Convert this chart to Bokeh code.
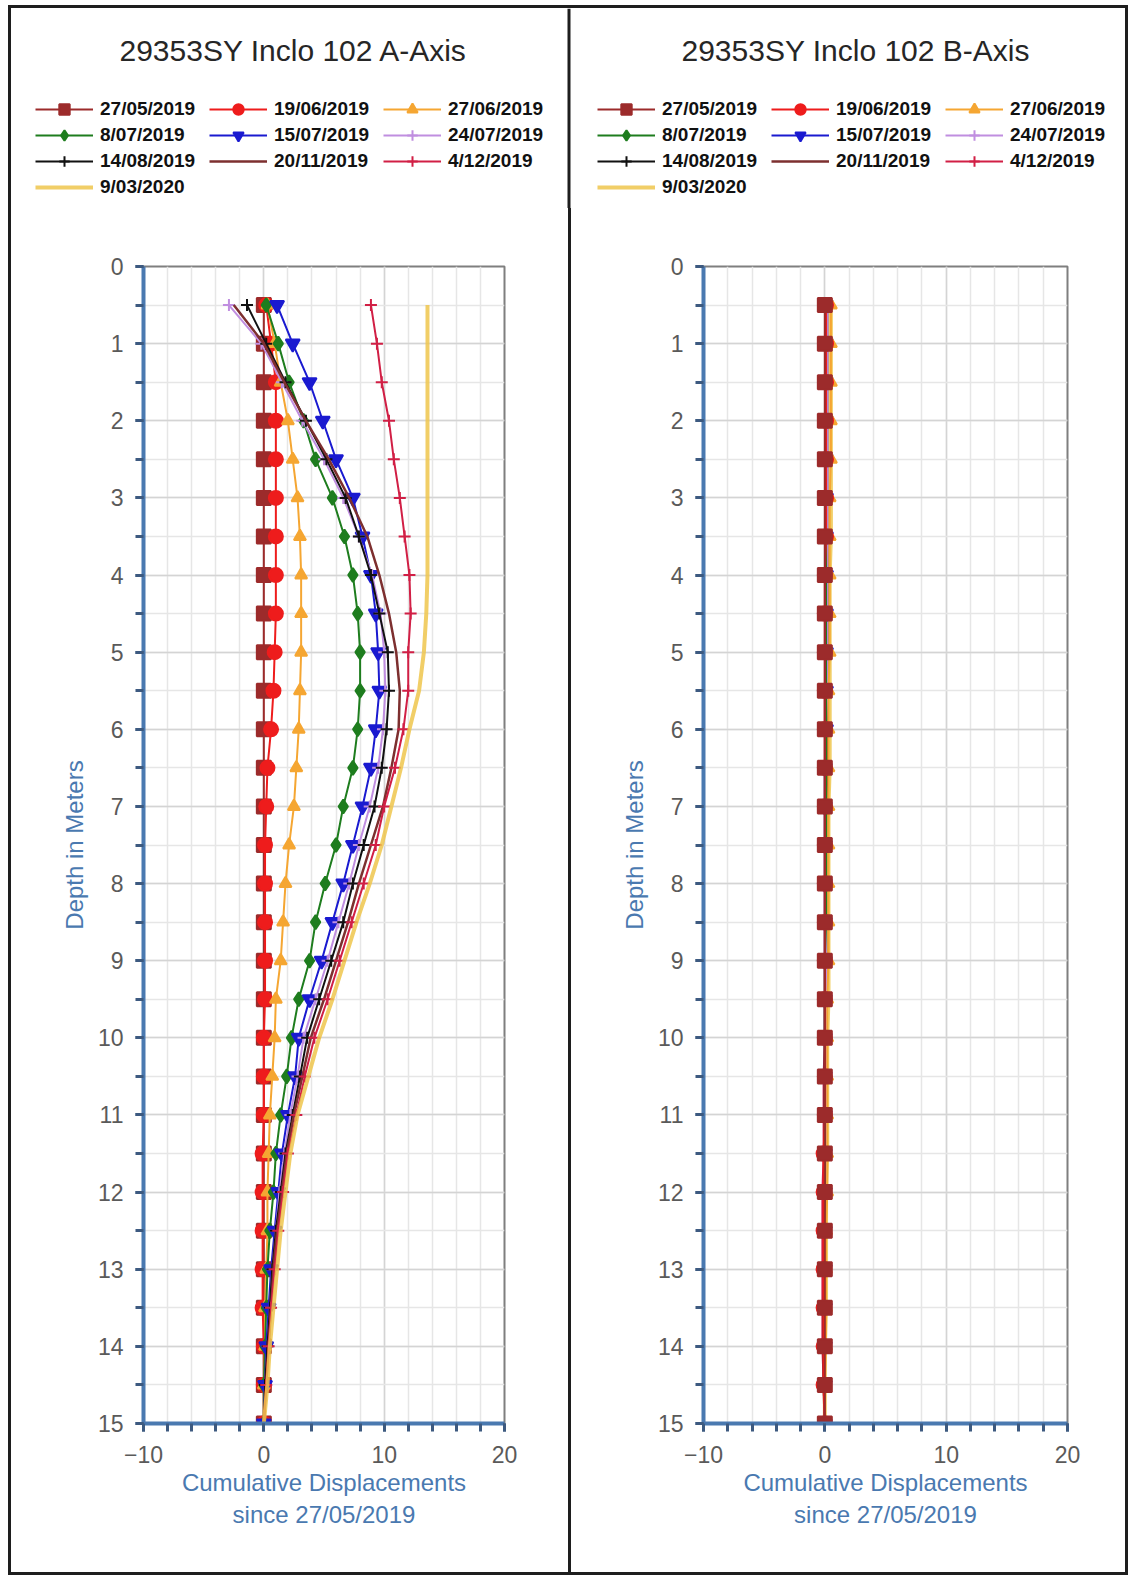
from bokeh.plotting import figure
from bokeh.layouts import row, column
from bokeh.models import Range1d, FixedTicker, Legend, LegendItem, Label, Span
from bokeh.embed import file_html
from bokeh.resources import INLINE

# ---------------- data ----------------
depths = [0.5, 1.0, 1.5, 2.0, 2.5, 3.0, 3.5, 4.0, 4.5, 5.0, 5.5, 6.0, 6.5, 7.0, 7.5,
          8.0, 8.5, 9.0, 9.5, 10.0, 10.5, 11.0, 11.5, 12.0, 12.5, 13.0, 13.5, 14.0, 14.5, 15.0]

dates = ["27/05/2019", "19/06/2019", "27/06/2019", "8/07/2019", "15/07/2019",
         "24/07/2019", "14/08/2019", "20/11/2019", "4/12/2019", "9/03/2020"]

# A-Axis cumulative displacements per reading date
a_27_05 = [0.0, 0.0, 0.0, 0.0, 0.0, 0.0, 0.0, 0.0, 0.0, 0.0, 0.0, 0.0, 0.0, 0.0, 0.0,
           0.0, 0.0, 0.0, 0.0, 0.0, 0.0, 0.0, 0.0, 0.0, 0.0, 0.0, 0.0, 0.0, 0.0, 0.0]
a_19_06 = [0.2, 0.6, 1.0, 1.0, 1.0, 1.0, 1.0, 1.0, 1.0, 0.9, 0.8, 0.6, 0.3, 0.2, 0.1,
           0.1, 0.1, 0.1, 0.1, 0.0, 0.0, 0.0, -0.1, -0.1, -0.1, -0.1, -0.1, 0.0, 0.0, 0.0]
a_27_06 = [0.3, 0.9, 1.4, 2.0, 2.4, 2.8, 3.0, 3.1, 3.1, 3.1, 3.0, 2.9, 2.7, 2.5, 2.1,
           1.8, 1.6, 1.4, 1.0, 0.9, 0.7, 0.5, 0.4, 0.3, 0.3, 0.2, 0.1, 0.1, 0.0, 0.0]
a_08_07 = [0.2, 1.2, 2.1, 3.3, 4.3, 5.7, 6.7, 7.4, 7.8, 8.0, 8.0, 7.8, 7.4, 6.6, 6.0,
           5.1, 4.3, 3.8, 2.9, 2.3, 1.9, 1.4, 1.0, 0.8, 0.5, 0.3, 0.2, 0.1, 0.0, 0.0]
a_15_07 = [1.1, 2.4, 3.8, 4.9, 6.0, 7.4, 8.2, 8.9, 9.3, 9.5, 9.6, 9.3, 8.9, 8.2, 7.4,
           6.6, 5.7, 4.8, 3.8, 2.9, 2.6, 2.0, 1.5, 1.2, 0.9, 0.6, 0.4, 0.2, 0.1, 0.0]
a_24_07 = [-2.9, -0.2, 1.5, 3.2, 5.0, 6.6, 7.9, 9.0, 9.7, 10.0, 10.1, 9.9, 9.5, 8.8, 7.9,
           7.1, 6.2, 5.3, 4.3, 3.3, 2.8, 2.2, 1.7, 1.3, 1.0, 0.7, 0.5, 0.3, 0.1, 0.0]
a_14_08 = [-1.4, 0.2, 1.8, 3.5, 5.2, 6.8, 7.9, 8.9, 9.6, 10.3, 10.4, 10.2, 9.8, 9.2, 8.3,
           7.4, 6.6, 5.6, 4.6, 3.6, 3.0, 2.4, 1.8, 1.4, 1.0, 0.7, 0.5, 0.3, 0.1, 0.0]
a_20_11 = [-2.5, 0.0, 1.7, 3.5, 5.4, 7.1, 8.6, 9.6, 10.4, 11.0, 11.3, 11.2, 10.6, 9.9, 8.9,
           7.9, 7.0, 6.0, 5.0, 3.9, 3.2, 2.5, 1.9, 1.5, 1.1, 0.8, 0.6, 0.4, 0.2, 0.0]
a_04_12 = [8.9, 9.4, 9.8, 10.4, 10.8, 11.3, 11.7, 12.1, 12.2, 12.0, 12.0, 11.6, 10.9, 10.0, 9.3,
           8.3, 7.3, 6.3, 5.3, 4.2, 3.4, 2.7, 2.0, 1.6, 1.2, 0.9, 0.6, 0.4, 0.2, 0.0]
a_09_03 = [13.6, 13.6, 13.6, 13.6, 13.6, 13.6, 13.6, 13.6, 13.5, 13.3, 12.9, 12.1, 11.4, 10.6, 9.8,
           8.8, 7.7, 6.7, 5.7, 4.6, 3.7, 2.8, 2.2, 1.8, 1.4, 1.1, 0.8, 0.5, 0.3, 0.0]

# B-Axis cumulative displacements per reading date
b_27_05 = [0.0, 0.0, 0.0, 0.0, 0.0, 0.0, 0.0, 0.0, 0.0, 0.0, 0.0, 0.0, 0.0, 0.0, 0.0,
           0.0, 0.0, 0.0, 0.0, 0.0, 0.0, 0.0, 0.0, 0.0, 0.0, 0.0, 0.0, 0.0, 0.0, 0.0]
b_19_06 = [0.1, 0.1, 0.1, 0.1, 0.1, 0.1, 0.1, 0.0, 0.0, 0.0, 0.0, 0.0, 0.0, 0.0, 0.0,
           0.0, 0.0, 0.0, 0.0, 0.0, 0.0, 0.0, -0.1, -0.1, -0.1, -0.1, -0.1, -0.1, -0.1, 0.0]
b_27_06 = [0.5, 0.5, 0.5, 0.5, 0.5, 0.4, 0.4, 0.4, 0.4, 0.4, 0.3, 0.3, 0.3, 0.3, 0.3,
           0.3, 0.3, 0.3, 0.2, 0.2, 0.2, 0.2, 0.2, 0.2, 0.1, 0.1, 0.1, 0.1, 0.0, 0.0]
b_08_07 = [0.1, 0.1, 0.1, 0.1, 0.1, 0.1, 0.1, 0.1, 0.1, 0.1, 0.1, 0.1, 0.1, 0.1, 0.1,
           0.1, 0.1, 0.0, 0.0, 0.0, 0.0, 0.0, 0.0, 0.0, 0.0, 0.0, 0.0, 0.0, 0.0, 0.0]
b_15_07 = [0.1, 0.1, 0.1, 0.1, 0.1, 0.1, 0.1, 0.1, 0.1, 0.1, 0.1, 0.1, 0.0, 0.0, 0.0,
           0.0, 0.0, 0.0, 0.0, 0.0, 0.0, 0.0, 0.0, 0.0, 0.0, 0.0, 0.0, 0.0, 0.0, 0.0]
b_24_07 = [0.2, 0.2, 0.2, 0.2, 0.2, 0.2, 0.2, 0.2, 0.2, 0.2, 0.2, 0.1, 0.1, 0.1, 0.1,
           0.1, 0.1, 0.1, 0.1, 0.1, 0.1, 0.1, 0.1, 0.0, 0.0, 0.0, 0.0, 0.0, 0.0, 0.0]
b_14_08 = [0.1, 0.1, 0.1, 0.1, 0.1, 0.1, 0.1, 0.1, 0.1, 0.1, 0.1, 0.1, 0.1, 0.1, 0.1,
           0.1, 0.1, 0.1, 0.0, 0.0, 0.0, 0.0, 0.0, 0.0, 0.0, 0.0, 0.0, 0.0, 0.0, 0.0]
b_20_11 = [0.2, 0.2, 0.2, 0.2, 0.2, 0.2, 0.2, 0.2, 0.2, 0.2, 0.2, 0.2, 0.2, 0.1, 0.1,
           0.1, 0.1, 0.1, 0.1, 0.1, 0.1, 0.1, 0.0, 0.0, 0.0, 0.0, -0.1, -0.1, -0.1, 0.0]
b_04_12 = [0.1, 0.1, 0.1, 0.1, 0.1, 0.1, 0.1, 0.1, 0.1, 0.1, 0.0, 0.0, 0.0, 0.0, 0.0,
           0.0, 0.0, 0.0, 0.0, 0.0, -0.1, -0.1, -0.1, -0.2, -0.2, -0.2, -0.2, -0.2, -0.1, 0.0]
b_09_03 = [0.5, 0.5, 0.5, 0.5, 0.5, 0.5, 0.5, 0.4, 0.4, 0.4, 0.4, 0.4, 0.4, 0.3, 0.3,
           0.3, 0.3, 0.3, 0.3, 0.2, 0.2, 0.2, 0.2, 0.1, 0.1, 0.1, 0.1, 0.0, 0.0, 0.0]

a_series = [a_27_05, a_19_06, a_27_06, a_08_07, a_15_07, a_24_07, a_14_08, a_20_11, a_04_12, a_09_03]
b_series = [b_27_05, b_19_06, b_27_06, b_08_07, b_15_07, b_24_07, b_14_08, b_20_11, b_04_12, b_09_03]

x_major_ticks = [-10, 0, 10, 20]
x_minor_ticks = [-10, -8, -6, -4, -2, 0, 2, 4, 6, 8, 10, 12, 14, 16, 18, 20]
y_major_ticks = [0, 1, 2, 3, 4, 5, 6, 7, 8, 9, 10, 11, 12, 13, 14, 15]
y_minor_ticks = [0, 0.5, 1, 1.5, 2, 2.5, 3, 3.5, 4, 4.5, 5, 5.5, 6, 6.5, 7, 7.5, 8, 8.5, 9, 9.5,
                 10, 10.5, 11, 11.5, 12, 12.5, 13, 13.5, 14, 14.5, 15]

titles = ["29353SY Inclo 102 A-Axis", "29353SY Inclo 102 B-Axis"]
x_label = "Cumulative Displacements\nsince 27/05/2019"
y_label = "Depth in Meters"

# ---------------- styles ----------------
colors = ["#9c2b2b", "#ee1c1c", "#f5a632", "#1e7d1e", "#1a1ad0",
          "#c08ee0", "#111111", "#7d2f2f", "#d11f45", "#efc64c"]
markers = ["square", "circle", "triangle", "diamond", "inverted_triangle",
           "cross", "cross", None, "cross", None]
msizes = [14, 14, 12, 14, 14, 12, 12, 0, 12, 0]
lwidths = [2, 2, 2, 2, 2, 2, 2, 2.5, 2, 4]

FONT = "Liberation Sans"
AXIS_BLUE = "#4a79b0"
TICK_COL = "#3d5a80"
LABEL_COL = "#5a5a5a"
TITLE_COL = "#262626"
BORDER_COL = "#1e1e1e"
BORDER = "3px solid " + BORDER_COL
HEADER_W = 1120
HEADER_H = 203
MAIN_H = 1367
HX0 = 1000   # header data origin (keeps its legend-only renderers off-canvas)


def draw_series(p, series, reverse):
    order = list(range(len(dates)))
    if reverse:
        order = order[::-1]
    rmap = {}
    for i in order:
        rs = [p.line(series[i], depths, line_color=colors[i], line_width=lwidths[i],
                     line_alpha=0.85 if i == 9 else 1.0)]
        if markers[i] is not None:
            rs.append(p.scatter(series[i], depths, marker=markers[i], size=msizes[i],
                                fill_color=colors[i], line_color=colors[i], line_width=2))
        rmap[i] = rs
    return rmap


def add_legend(h, rmap, vx):
    items = [LegendItem(label=dates[i], renderers=rmap[i]) for i in range(len(dates))]
    legend = Legend(items=items, location=(vx, 11),
                    orientation="horizontal", ncols=3,
                    glyph_width=58, glyph_height=26, label_standoff=7,
                    label_width=109, label_height=20, spacing=0,
                    padding=0, margin=0,
                    border_line_alpha=0, background_fill_alpha=0,
                    label_text_font=FONT, label_text_font_size="19px",
                    label_text_font_style="bold", label_text_color="#111111")
    h.add_layout(legend)


# -------- header strip: titles and legends of both panels --------
header = figure(width=HEADER_W, height=HEADER_H, title=None,
                x_range=Range1d(HX0, HX0 + HEADER_W), y_range=Range1d(HX0, HX0 + HEADER_H),
                x_axis_location=None, y_axis_location=None,
                output_backend="svg", toolbar_location=None, min_border=0,
                background_fill_color="white", border_fill_color="white")
header.styles = {"border-top": BORDER, "border-left": BORDER, "border-right": BORDER}
header.grid.visible = False
header.outline_line_color = None
header.add_layout(Span(location=HX0 + 557.5, dimension="height",
                       line_color=BORDER_COL, line_width=3))
rmap_a = draw_series(header, a_series, False)
rmap_b = draw_series(header, b_series, False)
add_legend(header, rmap_a, 24)
add_legend(header, rmap_b, 586)
for txt, tx in zip(titles, [108, 670]):
    header.add_layout(Label(x=tx, y=HEADER_H - 42, x_units="screen", y_units="screen",
                            text=txt, text_font=FONT, text_font_size="30px",
                            text_color=TITLE_COL, text_align="left", text_baseline="middle"))


def make_main(series, width, mbl, mbr, css, reverse):
    p = figure(width=width, height=MAIN_H, title=None,
               x_range=Range1d(-10, 20), y_range=Range1d(15, 0),
               output_backend="svg", toolbar_location=None,
               min_border_left=mbl, min_border_right=mbr,
               min_border_top=58, min_border_bottom=152,
               background_fill_color="white", border_fill_color="white")
    p.styles = css
    p.outline_line_color = "#7f7f7f"
    p.outline_line_width = 2

    xt = FixedTicker(ticks=x_major_ticks, minor_ticks=x_minor_ticks)
    p.xaxis.ticker = xt
    p.xgrid.ticker = xt
    yt = FixedTicker(ticks=y_major_ticks, minor_ticks=y_minor_ticks)
    p.yaxis.ticker = yt
    p.ygrid.ticker = yt

    for ax in (p.xaxis, p.yaxis):
        ax.axis_line_color = AXIS_BLUE
        ax.axis_line_width = 4
        ax.major_tick_line_color = TICK_COL
        ax.major_tick_line_width = 3
        ax.major_tick_out = 8
        ax.major_tick_in = 0
        ax.minor_tick_line_color = TICK_COL
        ax.minor_tick_line_width = 3
        ax.minor_tick_out = 8
        ax.minor_tick_in = 0
        ax.major_label_text_font = FONT
        ax.major_label_text_font_size = "23px"
        ax.major_label_text_color = LABEL_COL
        ax.axis_label_text_font = FONT
        ax.axis_label_text_font_size = "24px"
        ax.axis_label_text_font_style = "normal"
        ax.axis_label_text_color = AXIS_BLUE

    p.xaxis.axis_label = x_label
    p.xaxis.major_label_standoff = 14
    p.xaxis.axis_label_standoff = 3
    p.yaxis.axis_label = y_label
    p.yaxis.major_label_standoff = 12
    p.yaxis.axis_label_standoff = 7

    for g in (p.xgrid, p.ygrid):
        g.grid_line_color = "#d4d4d4"
        g.grid_line_width = 1.5
        g.minor_grid_line_color = "#e6e6e6"
        g.minor_grid_line_width = 1.5

    draw_series(p, series, reverse)
    return p


m1 = make_main(a_series, 563, 132, 70,
               {"border-left": BORDER, "border-right": BORDER, "border-bottom": BORDER}, False)
m2 = make_main(b_series, 557, 132, 61,
               {"border-right": BORDER, "border-bottom": BORDER}, True)

layout = column(header, row(m1, m2), margin=(5, 0, 0, 8))
open("out.html", "w").write(file_html(layout, INLINE))
